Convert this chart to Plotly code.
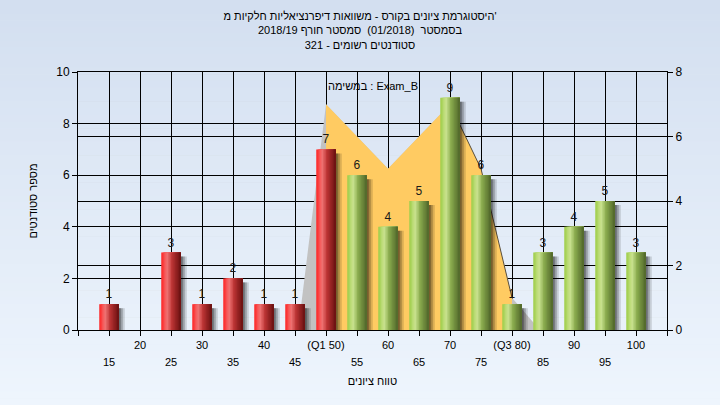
import plotly.graph_objects as go

# ---------------- data ----------------
grade_bins = [15, 20, 25, 30, 35, 40, 45, 50, 55, 60, 65, 70, 75, 80, 85, 90, 95, 100]
student_counts = [1, 0, 3, 1, 2, 1, 1, 7, 6, 4, 5, 9, 6, 1, 3, 4, 5, 3]
tick_labels = ["15", "20", "25", "30", "35", "40", "45", "(Q1 50)", "55", "60",
               "65", "70", "75", "(Q3 80)", "85", "90", "95", "100"]
q1_value = 50
curve_x = [50, 55, 60, 65, 70, 75, 80]
curve_y = [7, 6, 5, 6, 7, 5, 1]
title_lines = [
    "היסטוגרמת ציונים בקורס - משוואות דיפרנציאליות חלקיות מ'",
    "בסמסטר  (01/2018)  סמסטר חורף 2018/19",
    "סטודנטים רשומים - 321",
]
y_title = "מספר סטודנטים"
x_title = "טווח ציונים"
exam_label = "במשימה : Exam_B"

# ---------------- layout constants ----------------
W, H = 720, 405
ML, MR, MT, MB = 78, 53, 72, 75
PW, PH = W - ML - MR, H - MT - MB
FONT = "Liberation Sans, DejaVu Sans, Arial, sans-serif"
X_RANGE = [10, 105]
px_per_x = PW / (X_RANGE[1] - X_RANGE[0])
px_per_y = PH / 10.0
BAR_W = 19.5 / px_per_x


def lerp(stops, t):
    for (t0, c0), (t1, c1) in zip(stops, stops[1:]):
        if t <= t1:
            f = (t - t0) / (t1 - t0) if t1 > t0 else 0
            return "rgb(%d,%d,%d)" % tuple(round(a + (b - a) * f) for a, b in zip(c0, c1))
    return "rgb(%d,%d,%d)" % stops[-1][1]


RED = [(0, (255, 34, 34)), (0.3, (240, 118, 118)), (0.55, (188, 52, 52)), (1, (105, 16, 16))]
GREEN = [(0, (156, 204, 70)), (0.3, (204, 228, 146)), (0.55, (138, 172, 78)), (1, (80, 102, 42))]

fig = go.Figure()

# background gradient (figure)
NB = 60
for i in range(NB):
    py0 = H * i / NB
    py1 = H * (i + 1) / NB + 0.5
    t = i / (NB - 1)
    c = tuple(round(a + (b - a) * t) for a, b in zip((211, 223, 240), (238, 245, 253)))
    fig.add_shape(type="rect", xref="paper", yref="paper", layer="below",
                  x0=-ML / PW - 0.01, x1=1 + MR / PW + 0.01,
                  y0=(H - MB - py1) / PH, y1=(H - MB - py0) / PH,
                  line_width=0, fillcolor="rgb(%d,%d,%d)" % c)

# light-gray shadow of the curve area
spread = 4.5
fig.add_trace(go.Scatter(
    x=[curve_x[0] - spread] + curve_x + [curve_x[-1] + spread],
    y=[0] + curve_y + [0],
    mode="lines", fill="toself", fillcolor="#c2c2c2", line=dict(width=0),
    hoverinfo="skip", xaxis="x", yaxis="y"))
# yellow curve area (right axis)
fig.add_trace(go.Scatter(
    x=curve_x, y=curve_y, mode="lines", fill="tozeroy", fillcolor="#ffcb62",
    line=dict(width=0, color="#ffcb62"), hoverinfo="skip", xaxis="x", yaxis="y"))
peak = curve_y.index(max(curve_y[len(curve_y) // 2:]), len(curve_y) // 2)
fig.add_trace(go.Scatter(
    x=curve_x[peak:], y=curve_y[peak:], mode="lines",
    line=dict(width=1, color="#5a5040"), hoverinfo="skip", xaxis="x", yaxis="y"))

# bar shadows
drop = 4 / px_per_y
for k, a in [(2, 0.3), (4, 0.22), (6, 0.14)]:
    fig.add_trace(go.Bar(
        x=grade_bins, y=[max(v - drop, 0) for v in student_counts],
        width=BAR_W, offset=-BAR_W / 2 + k / px_per_x,
        marker=dict(color="rgba(0,0,0,%.2f)" % a, line=dict(width=0)),
        hoverinfo="skip", xaxis="x", yaxis="y2"))

# gradient bars built from slices
N = 14
for i in range(N):
    t = (i + 0.5) / N
    cols = [lerp(RED, t) if g <= q1_value else lerp(GREEN, t) for g in grade_bins]
    kw = {}
    if i == 0:
        kw = dict(text=[str(v) if v > 0 else "" for v in student_counts],
                  textposition="outside", cliponaxis=False,
                  textfont=dict(size=12, color="#1a1a1a", family=FONT))
    fig.add_trace(go.Bar(
        x=grade_bins, y=student_counts,
        width=BAR_W - i * BAR_W / N, offset=-BAR_W / 2 + i * BAR_W / N,
        marker=dict(color=cols, line=dict(width=0)),
        hoverinfo="skip", xaxis="x", yaxis="y2", **kw))

# carrier for lower row of x tick labels
fig.add_trace(go.Scatter(x=grade_bins, y=[None] * len(grade_bins), mode="markers",
                         xaxis="x2", yaxis="y", hoverinfo="skip", showlegend=False))

upper_vals = grade_bins[1::2]
lower_vals = grade_bins[0::2]
lower_text = tick_labels[0::2]

tick_all = [X_RANGE[0]] + grade_bins + [X_RANGE[1]]
tick_txt = [""] + [t if g in upper_vals else "" for g, t in zip(grade_bins, tick_labels)] + [""]

fig.update_layout(
    width=W, height=H,
    margin=dict(l=ML, r=MR, t=MT, b=MB, pad=0),
    paper_bgcolor="rgb(224,234,247)",
    plot_bgcolor="#b4b4b4",
    barmode="overlay",
    showlegend=False,
    font=dict(family=FONT, size=11, color="black"),
    title=dict(text="<br>".join(title_lines),
               x=0.5, xref="container", xanchor="center",
               y=1 - 20 / H, yref="container", yanchor="top",
               font=dict(size=11, color="black", family=FONT)),
    xaxis=dict(range=X_RANGE, tickmode="array", tickvals=tick_all, ticktext=tick_txt,
               ticks="outside", ticklen=5, tickcolor="black", showline=True,
               linecolor="black", mirror=True, showgrid=True, gridcolor="black",
               gridwidth=1, zeroline=False, tickfont=dict(size=11)),
    xaxis2=dict(range=X_RANGE, overlaying="x", anchor="y", side="bottom",
                tickmode="array", tickvals=lower_vals, ticktext=lower_text,
                ticks="", showline=False, showgrid=False, zeroline=False,
                ticklabelstandoff=24, tickfont=dict(size=11),
                title=dict(text=x_title, font=dict(size=11), standoff=10)),
    yaxis=dict(range=[0, 8], side="right", tickvals=[0, 2, 4, 6, 8], ticks="outside",
               ticklen=5, tickcolor="black", showline=True, linecolor="black",
               showgrid=True, gridcolor="black", gridwidth=1, zeroline=False,
               tickfont=dict(size=12)),
    yaxis2=dict(range=[0, 10], side="left", overlaying="y", tickvals=[0, 2, 4, 6, 8, 10],
                ticks="outside", ticklen=5, tickcolor="black", showline=True,
                linecolor="black", showgrid=True, gridcolor="black", gridwidth=1,
                zeroline=False, tickfont=dict(size=12),
                title=dict(text=y_title, font=dict(size=11), standoff=16)),
    annotations=[dict(text=exam_label, xref="paper", yref="paper", x=0.5,
                      y=(PH - 14) / PH, xanchor="center", yanchor="middle",
                      showarrow=False, font=dict(size=11, color="black", family=FONT))],
)

fig.write_html("out.html", config={"displayModeBar": False},
               post_script="document.body.style.margin='0';document.body.style.padding='0';")
